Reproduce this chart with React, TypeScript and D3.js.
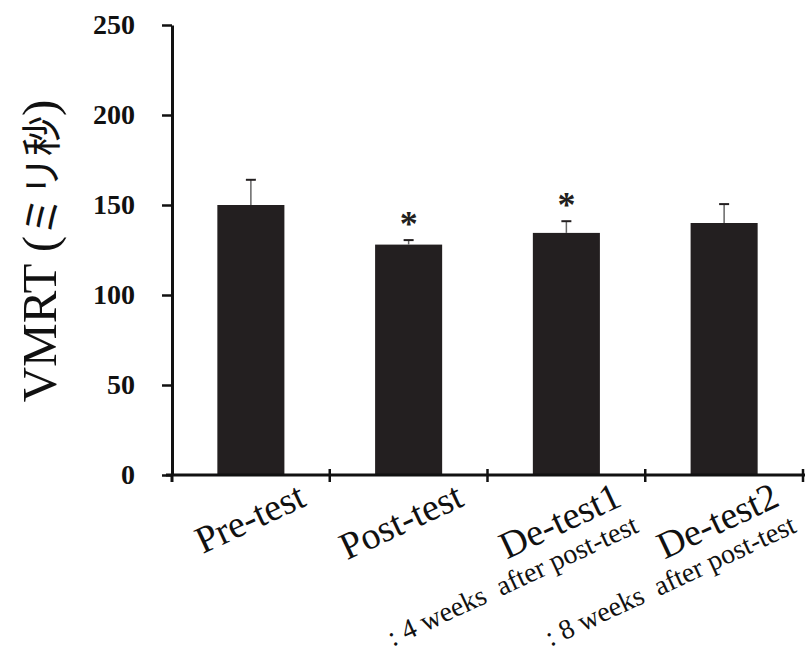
import React, { useEffect, useRef } from "react";
import * as d3 from "d3";

const categories = ["Pre-test", "Post-test", "De-test1", "De-test2"];
const subLabels = ["", "", ": 4 weeks  after post-test", ": 8 weeks  after post-test"];
const means = [150, 128, 134.5, 140];
const errTops = [164, 130.5, 141, 150.5];
const starred = [false, true, true, false];
const yTicks = [0, 50, 100, 150, 200, 250];

const App = () => {
  const svgRef = useRef(null);

  useEffect(() => {
    const width = 805;
    const height = 660;
    const margin = { top: 25, left: 172, right: 2, bottom: 185 };
    const serif = "'Times New Roman', 'Liberation Serif', serif";

    const svg = d3.select(svgRef.current);
    svg.selectAll("*").remove();

    const x = d3
      .scaleBand()
      .domain(categories)
      .range([margin.left, width - margin.right])
      .paddingInner(0.575)
      .paddingOuter(0.2875);
    const y = d3.scaleLinear().domain([0, 250]).range([height - margin.bottom, margin.top]);

    const data = categories.map((c, i) => ({ name: c, value: means[i], err: errTops[i], star: starred[i] }));

    // bars
    svg
      .selectAll(".bar")
      .data(data)
      .enter()
      .append("rect")
      .attr("x", (d) => x(d.name))
      .attr("width", x.bandwidth())
      .attr("y", (d) => y(d.value))
      .attr("height", (d) => y(0) - y(d.value))
      .style("fill", "#231f20");

    // error bars
    const cx = (d) => x(d.name) + x.bandwidth() / 2;
    svg
      .selectAll(".err")
      .data(data)
      .enter()
      .append("line")
      .attr("x1", cx)
      .attr("x2", cx)
      .attr("y1", (d) => y(d.value))
      .attr("y2", (d) => y(d.err))
      .style("stroke", "#666")
      .style("stroke-width", 1.5);
    svg
      .selectAll(".cap")
      .data(data)
      .enter()
      .append("line")
      .attr("x1", (d) => cx(d) - 5)
      .attr("x2", (d) => cx(d) + 5)
      .attr("y1", (d) => y(d.err))
      .attr("y2", (d) => y(d.err))
      .style("stroke", "#231f20")
      .style("stroke-width", 2);

    // asterisks
    svg
      .selectAll(".star")
      .data(data.filter((d) => d.star))
      .enter()
      .append("text")
      .attr("x", cx)
      .attr("y", (d) => y(d.err) - 4)
      .attr("text-anchor", "middle")
      .style("font-family", serif)
      .style("font-weight", "bold")
      .style("font-size", "36px")
      .style("fill", "#231f20")
      .text("*");

    // y axis
    const yAxis = svg
      .append("g")
      .attr("transform", "translate(" + margin.left + ",0)")
      .call(d3.axisLeft(y).tickValues(yTicks).tickSize(10).tickSizeOuter(0).tickPadding(27));
    yAxis.select(".domain").attr("stroke", "#111").attr("stroke-width", 3);
    yAxis.selectAll(".tick line").attr("stroke", "#111").attr("stroke-width", 2.5);
    yAxis
      .selectAll(".tick text")
      .style("font-family", serif)
      .style("font-weight", "bold")
      .style("font-size", "28px")
      .style("fill", "#111");
    // extend y axis slightly below zero
    svg
      .append("line")
      .attr("x1", margin.left)
      .attr("x2", margin.left)
      .attr("y1", y(0))
      .attr("y2", y(0) + 7)
      .style("stroke", "#111")
      .style("stroke-width", 3);

    // x axis
    const gap = (x.step() - x.bandwidth()) / 2;
    const bounds = categories.map((c) => x(c) - gap).concat([x(categories[3]) + x.bandwidth() + gap]);
    svg
      .append("line")
      .attr("x1", margin.left - 6)
      .attr("x2", width)
      .attr("y1", y(0))
      .attr("y2", y(0))
      .style("stroke", "#111")
      .style("stroke-width", 3);
    svg
      .selectAll(".xtick")
      .data(bounds.slice(1))
      .enter()
      .append("line")
      .attr("x1", (d) => d)
      .attr("x2", (d) => d)
      .attr("y1", y(0) - 6)
      .attr("y2", y(0) + 7)
      .style("stroke", "#111")
      .style("stroke-width", 2.5);

    // x labels
    const lbl = svg
      .selectAll(".xlabel")
      .data(data)
      .enter()
      .append("g")
      .attr("transform", (d) => "translate(" + (cx(d) + 57) + "," + 505 + ") rotate(-25)");
    lbl
      .append("text")
      .attr("text-anchor", "end")
      .style("font-family", serif)
      .style("font-size", "38px")
      .style("fill", "#111")
      .text((d) => d.name);
    lbl
      .append("text")
      .attr("text-anchor", "end")
      .attr("x", 4)
      .attr("y", 31)
      .style("font-family", serif)
      .style("font-size", "28px")
      .style("fill", "#111")
      .style("white-space", "pre")
      .text((d, i) => subLabels[i]);

    // y label
    const yl = svg
      .append("text")
      .attr("transform", "translate(56,251) rotate(-90)")
      .attr("text-anchor", "middle")
      .style("font-family", serif)
      .style("font-size", "49px")
      .style("fill", "#111");
    yl.append("tspan").text("VMRT (");
    yl.append("tspan").style("font-family", "'Noto Sans CJK JP', sans-serif").style("font-size", "40px").text("ミリ秒");
    yl.append("tspan").text(")");
  }, []);

  return (
    <div style={{ position: "absolute", left: 0, top: 0 }}>
      <svg ref={svgRef} width="805" height="660" style={{ display: "block", background: "#fff" }} />
    </div>
  );
};

export default App;
